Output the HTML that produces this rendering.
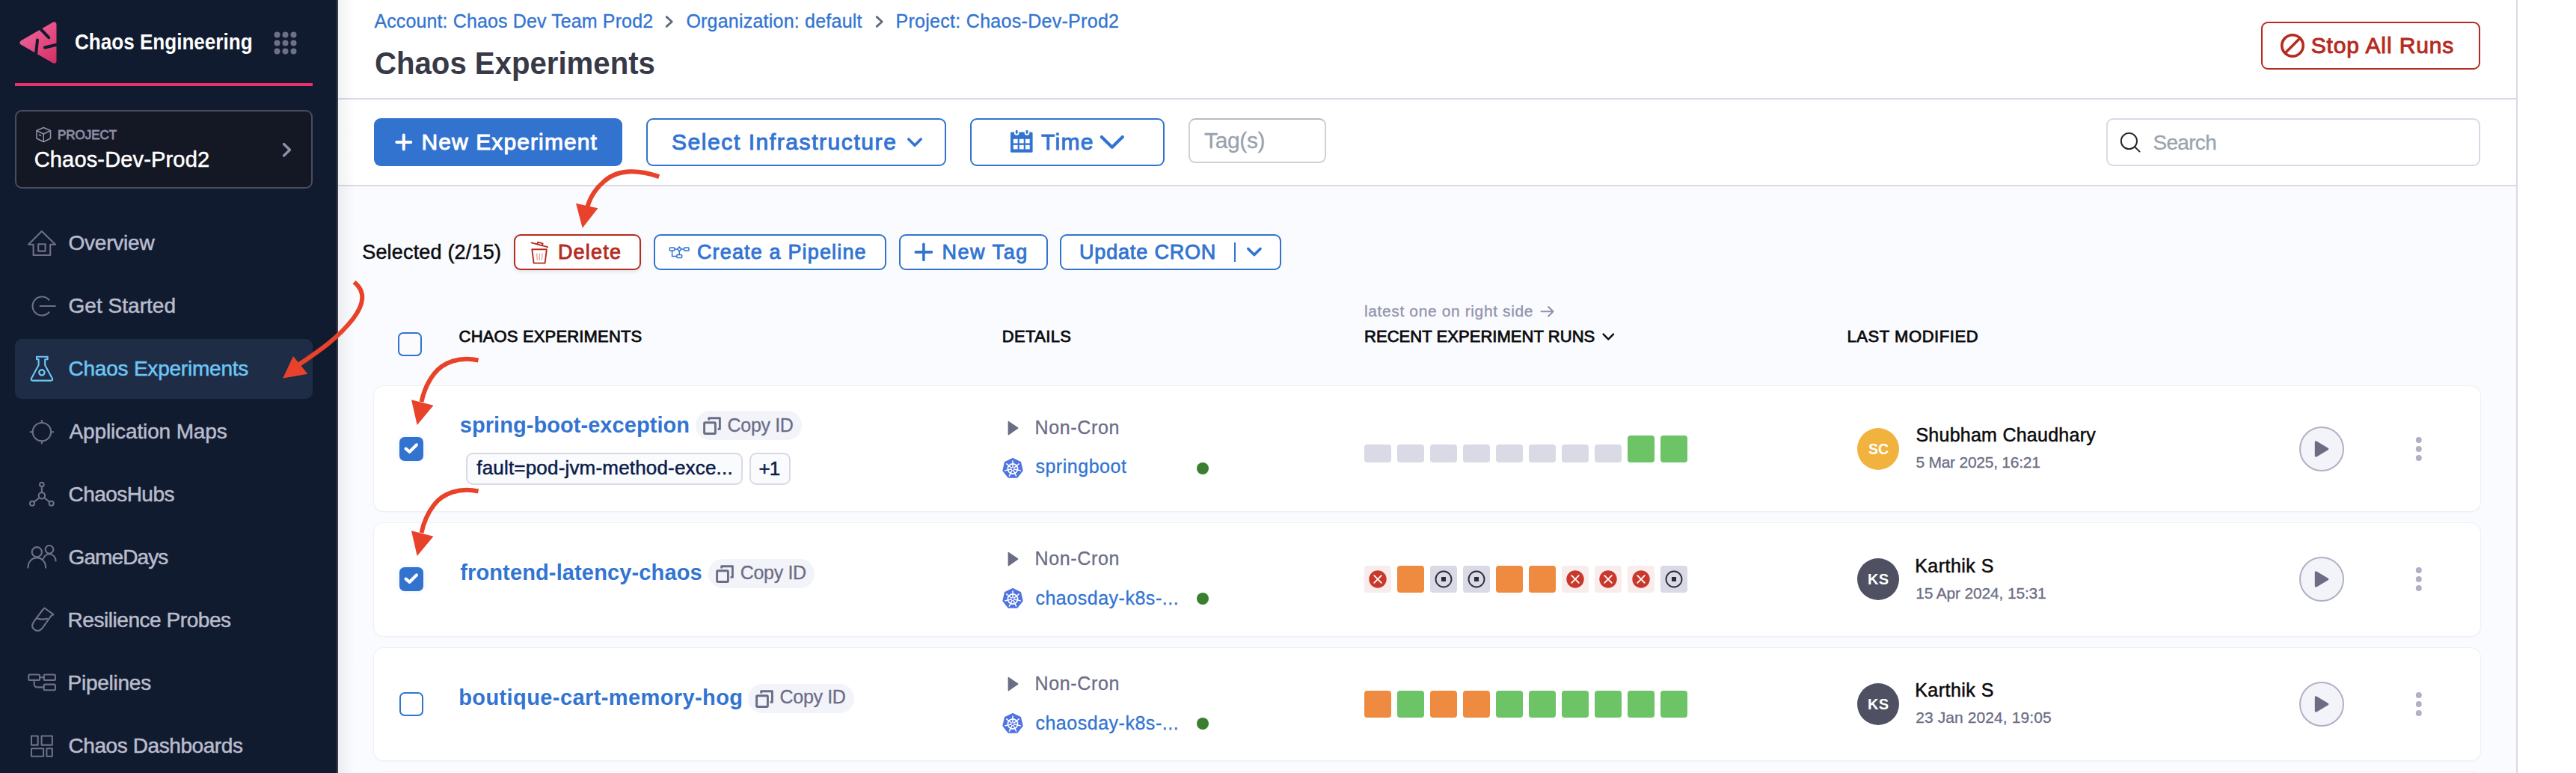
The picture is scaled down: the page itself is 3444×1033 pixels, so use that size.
<!DOCTYPE html>
<html><head><meta charset="utf-8"><title>Chaos Experiments</title>
<style>
html,body{margin:0;padding:0;}
body{width:3444px;height:1033px;overflow:hidden;position:relative;background:#fff;font-family:"Liberation Sans",sans-serif;}
.b{position:absolute;display:block;}
.t{position:absolute;white-space:nowrap;line-height:1;font-family:"Liberation Sans",sans-serif;}
</style></head><body>
<div class="b" style="left:452px;top:0px;width:2912px;height:1033px;background:#fafbfe"></div>
<div class="b" style="left:452px;top:0px;width:2912px;height:131px;background:#fff"></div>
<div class="b" style="left:452px;top:131px;width:2912px;height:2px;background:#d9dae5"></div>
<div class="b" style="left:452px;top:133px;width:2912px;height:114px;background:#fff"></div>
<div class="b" style="left:452px;top:247px;width:2912px;height:2px;background:#d9dae5"></div>
<div class="b" style="left:452px;top:0px;width:22px;height:1033px;background:linear-gradient(90deg,rgba(20,20,40,0.06),rgba(20,20,40,0))"></div>
<div class="b" style="left:3364px;top:0px;width:2px;height:1033px;background:#d9dae5"></div>
<div class="b" style="left:3366px;top:0px;width:78px;height:1033px;background:#fff"></div>
<div class="b" style="left:0px;top:0px;width:450px;height:1033px;background:#101b2f"></div>
<div class="b" style="left:450px;top:0px;width:2px;height:1033px;background:#3b3e4b"></div>
<svg class="b" style="left:20px;top:24px" width="64" height="66" viewBox="20 24 64 66">
<defs><linearGradient id="lg" gradientUnits="userSpaceOnUse" x1="30" y1="30" x2="75" y2="85"><stop offset="0" stop-color="#f06ba2"/><stop offset="1" stop-color="#d62d63"/></linearGradient></defs>
<path d="M72.3 32.6 L72.3 81.4 L29.8 57 Z" fill="url(#lg)" stroke="url(#lg)" stroke-width="6.4" stroke-linejoin="round"/>
<g stroke="#101b2f" stroke-width="4" stroke-linecap="round" fill="none">
<path d="M52 36.5 L65.2 50.2"/><path d="M50 53.5 L47.8 75"/><path d="M60 63.5 L77 59.5"/>
</g></svg>
<div class="t" style="left:100.1px;top:42.0px;font-size:29px;font-weight:700;color:#ffffff;letter-spacing:0px;transform:scaleX(0.8992);transform-origin:0 0;">Chaos Engineering</div>
<svg class="b" style="left:360px;top:36px" width="44" height="44" viewBox="360 36 44 44"><circle cx="370.5" cy="46.5" r="4" fill="#6e7087"/><circle cx="370.5" cy="57.5" r="4" fill="#6e7087"/><circle cx="370.5" cy="68.5" r="4" fill="#6e7087"/><circle cx="381.5" cy="46.5" r="4" fill="#6e7087"/><circle cx="381.5" cy="57.5" r="4" fill="#6e7087"/><circle cx="381.5" cy="68.5" r="4" fill="#6e7087"/><circle cx="392.5" cy="46.5" r="4" fill="#6e7087"/><circle cx="392.5" cy="57.5" r="4" fill="#6e7087"/><circle cx="392.5" cy="68.5" r="4" fill="#6e7087"/></svg>
<div class="b" style="left:20px;top:111px;width:398px;height:4px;background:#ee2f6c"></div>
<div class="b" style="left:20px;top:147px;width:398px;height:105px;background:#141724;border:2px solid #4b4d5f;border-radius:9px;box-sizing:border-box"></div>
<svg class="b" style="left:46px;top:168px" width="26" height="26" viewBox="46 168 26 26" fill="none" stroke="#8e90a8" stroke-width="1.6" stroke-linejoin="round">
<path d="M58.2 170.5 L67.5 174.5 L67.5 185 L58.2 189.5 L49 185 L49 174.5 Z"/><path d="M49 174.5 L58.2 179 L67.5 174.5"/><path d="M58.2 179 L58.2 189.5"/><path d="M52 180 L55 181.5"/></svg>
<div class="t" style="left:77.0px;top:172.0px;font-size:17px;font-weight:400;color:#8e90a8;letter-spacing:-0.05px;-webkit-text-stroke:0.80px #8e90a8;">PROJECT</div>
<div class="t" style="left:45.7px;top:199.3px;font-size:29px;font-weight:400;color:#ffffff;letter-spacing:0.164px;-webkit-text-stroke:0.5px #ffffff;">Chaos-Dev-Prod2</div>
<svg class="b" style="left:372px;top:186px" width="24" height="30" viewBox="372 186 24 30"><path d="M379.5 192.5 L387.5 200.3 L379.5 208" fill="none" stroke="#8e90a8" stroke-width="3.4" stroke-linecap="round" stroke-linejoin="round"/></svg>
<div class="b" style="left:20px;top:453px;width:398px;height:80px;background:#1f2c46;border-radius:9px"></div>
<div class="t" style="left:91.5px;top:310.7px;font-size:28px;font-weight:400;color:#babccd;letter-spacing:-0.214px;-webkit-text-stroke:0.5px #babccd;">Overview</div>
<div class="t" style="left:91.5px;top:394.8px;font-size:28px;font-weight:400;color:#babccd;letter-spacing:0.03px;-webkit-text-stroke:0.5px #babccd;">Get Started</div>
<div class="t" style="left:91.5px;top:479.0px;font-size:28px;font-weight:400;color:#6cc6f5;letter-spacing:-0.219px;-webkit-text-stroke:0.5px #6cc6f5;">Chaos Experiments</div>
<div class="t" style="left:92.5px;top:563.0px;font-size:28px;font-weight:400;color:#babccd;letter-spacing:-0.133px;-webkit-text-stroke:0.5px #babccd;">Application Maps</div>
<div class="t" style="left:91.5px;top:647.0px;font-size:28px;font-weight:400;color:#babccd;letter-spacing:-0.55px;-webkit-text-stroke:0.5px #babccd;">ChaosHubs</div>
<div class="t" style="left:91.5px;top:731.0px;font-size:28px;font-weight:400;color:#babccd;letter-spacing:-0.9px;-webkit-text-stroke:0.5px #babccd;">GameDays</div>
<div class="t" style="left:90.5px;top:815.0px;font-size:28px;font-weight:400;color:#babccd;letter-spacing:-0.444px;-webkit-text-stroke:0.5px #babccd;">Resilience Probes</div>
<div class="t" style="left:90.5px;top:899.0px;font-size:28px;font-weight:400;color:#babccd;letter-spacing:-0.25px;-webkit-text-stroke:0.5px #babccd;">Pipelines</div>
<div class="t" style="left:91.5px;top:983.0px;font-size:28px;font-weight:400;color:#babccd;letter-spacing:-0.42px;-webkit-text-stroke:0.5px #babccd;">Chaos Dashboards</div>
<svg class="b" style="left:30px;top:290px" width="50" height="743" viewBox="30 290 50 743" fill="none" stroke="#6e7087" stroke-width="2.1" stroke-linejoin="round" stroke-linecap="round">
<path d="M55.8 309 L38 326.8 L44.6 326.8 L44.6 341 L67.2 341 L67.2 326.8 L74 326.8 Z"/>
<rect x="51.2" y="326.2" width="9.4" height="9.4"/>
<path d="M65.5 400.8 A12.5 12.5 0 1 0 65.5 417.2"/><path d="M53.6 409 L73.8 409"/>
<g stroke="#6cc6f5" stroke-width="2.1"><path d="M49 476.8 L63.6 476.8 L63.6 480.2 L60.2 480.2 L60.2 488 L70 506 Q71 508.6 68 508.6 L43.8 508.6 Q40.8 508.6 41.8 506 L51.6 488 L51.6 480.2 L49 480.2 Z"/>
<circle cx="55.9" cy="497.8" r="3.6" stroke-width="2.4" stroke-dasharray="2 1"/></g>
<circle cx="55.9" cy="577.2" r="12.2"/><path d="M55.9 562 L55.9 565 M55.9 589.4 L55.9 592.4 M40.6 577.2 L43.7 577.2 M68.1 577.2 L71.3 577.2"/>
<circle cx="55.9" cy="647.5" r="2.8"/><circle cx="55.9" cy="662.3" r="4.2"/><circle cx="43" cy="672.8" r="3"/><circle cx="68.7" cy="672.8" r="3"/>
<path d="M55.9 650.3 L55.9 658.1 M52.8 665 L45.3 670.8 M59 665 L66.4 670.8"/>
<circle cx="49.3" cy="737.7" r="6.6"/><path d="M37.5 758.6 C37.5 751 42.5 745.4 49.3 745.4 C56.1 745.4 61.1 751 61.1 758.6"/>
<circle cx="66" cy="734.3" r="5.3"/><path d="M57.6 746.8 C59.5 742.5 62.5 740.5 66 740.5 C71 740.5 74.5 744.5 74.6 749.6"/>
<path d="M59.5 812.5 L71.5 821.2 L68.2 823.2 L56.8 839.2 Q51.8 845.5 46.2 841.4 Q40.6 837.3 45.2 830.8 L57 815 Z"/><path d="M49.8 826.4 Q56 828.6 63 826.8"/>
<rect x="38.3" y="901.5" width="14.8" height="7.4" rx="1.5"/><rect x="58.7" y="901.5" width="15.2" height="7.4" rx="1.5"/><rect x="58.7" y="914.6" width="15.2" height="7.6" rx="1.5"/>
<path d="M53.1 905.2 L58.7 905.2 M45.7 908.9 L45.7 914 Q45.7 918.4 50 918.4 L58.7 918.4"/>
<rect x="42" y="983.5" width="8.7" height="12.1"/><rect x="55.6" y="983.5" width="14.2" height="12.1"/><rect x="42" y="1000.2" width="16.1" height="10.5"/><rect x="62.4" y="1000.2" width="7.4" height="10.5"/>
</svg>
<div class="t" style="left:500.4px;top:15.7px;font-size:25px;font-weight:400;color:#3274d2;letter-spacing:0.125px;-webkit-text-stroke:0.3px #3274d2;">Account: Chaos Dev Team Prod2</div>
<div class="t" style="left:917.4px;top:15.9px;font-size:25px;font-weight:400;color:#3274d2;letter-spacing:0.22px;-webkit-text-stroke:0.3px #3274d2;">Organization: default</div>
<div class="t" style="left:1197.5px;top:15.9px;font-size:25px;font-weight:400;color:#3274d2;letter-spacing:0.291px;-webkit-text-stroke:0.3px #3274d2;">Project: Chaos-Dev-Prod2</div>
<svg class="b" style="left:886px;top:16px" width="20" height="26" viewBox="886 16 20 26"><path d="M891.2 22.6 L898.2 29 L891.2 35.4" fill="none" stroke="#5d6b7a" stroke-width="2.8" stroke-linecap="round" stroke-linejoin="round"/></svg>
<svg class="b" style="left:1167px;top:16px" width="20" height="26" viewBox="1167 16 20 26"><path d="M1172.2 22.6 L1179.2 29 L1172.2 35.4" fill="none" stroke="#5d6b7a" stroke-width="2.8" stroke-linecap="round" stroke-linejoin="round"/></svg>
<div class="t" style="left:501.1px;top:63.0px;font-size:43px;font-weight:700;color:#383946;letter-spacing:0px;transform:scaleX(0.9338);transform-origin:0 0;">Chaos Experiments</div>
<div class="b" style="left:3023px;top:29px;width:293px;height:64px;border:2px solid #b52b1f;border-radius:9px;box-sizing:border-box;background:#fff"></div>
<svg class="b" style="left:3045px;top:41px" width="40" height="40" viewBox="3045 41 40 40" fill="none" stroke="#b52b1f" stroke-width="3.6"><circle cx="3065" cy="60.9" r="14.2"/><path d="M3055 71 L3075 51"/></svg>
<div class="t" style="left:3089.7px;top:45.9px;font-size:30px;font-weight:400;color:#b52b1f;letter-spacing:0.875px;-webkit-text-stroke:0.96px #b52b1f;">Stop All Runs</div>
<div class="b" style="left:500px;top:158px;width:332px;height:64px;background:#3273d0;border-radius:9px"></div>
<svg class="b" style="left:524px;top:174px" width="32" height="32" viewBox="524 174 32 32"><path d="M539.8 180.5 L539.8 199.5 M530.3 190 L549.3 190" stroke="#fff" stroke-width="4" stroke-linecap="round"/></svg>
<div class="t" style="left:563.5px;top:174.9px;font-size:30px;font-weight:400;color:#ffffff;letter-spacing:1.1px;-webkit-text-stroke:0.96px #ffffff;">New Experiment</div>
<div class="b" style="left:864px;top:158px;width:401px;height:64px;border:2px solid #3273d0;border-radius:9px;box-sizing:border-box;background:#fff"></div>
<div class="t" style="left:898.0px;top:174.7px;font-size:30px;font-weight:400;color:#3274d2;letter-spacing:1.57px;-webkit-text-stroke:0.96px #3274d2;">Select Infrastructure</div>
<svg class="b" style="left:1208px;top:178px" width="30" height="24" viewBox="1208 178 30 24"><path d="M1214.8 186 L1223 194.3 L1231.2 186" fill="none" stroke="#3273d0" stroke-width="3.6" stroke-linecap="round" stroke-linejoin="round"/></svg>
<div class="b" style="left:1297px;top:158px;width:260px;height:64px;border:2px solid #3273d0;border-radius:9px;box-sizing:border-box;background:#fff"></div>
<svg class="b" style="left:1348px;top:170px" width="36" height="38" viewBox="1348 170 36 38">
<rect x="1351" y="176.5" width="29.6" height="27.3" rx="1.5" fill="#3273d0"/>
<g fill="#fff"><rect x="1354.8" y="185.8" width="5.8" height="5.6"/><rect x="1362.9" y="185.8" width="5.8" height="5.6"/><rect x="1370.9" y="185.8" width="5.8" height="5.6"/>
<rect x="1354.8" y="193.8" width="5.8" height="5.6"/><rect x="1362.9" y="193.8" width="5.8" height="5.6"/><rect x="1370.9" y="193.8" width="5.8" height="5.6"/>
<circle cx="1359.2" cy="177.5" r="3.3"/><circle cx="1373" cy="177.5" r="3.3"/></g>
<g fill="#3273d0"><rect x="1357.8" y="173.8" width="2.8" height="5.2" rx="1.4"/><rect x="1371.6" y="173.8" width="2.8" height="5.2" rx="1.4"/></g>
</svg>
<div class="t" style="left:1392.0px;top:174.8px;font-size:30px;font-weight:400;color:#3274d2;letter-spacing:1.333px;-webkit-text-stroke:0.96px #3274d2;">Time</div>
<svg class="b" style="left:1466px;top:176px" width="42" height="28" viewBox="1466 176 42 28"><path d="M1472.8 183 L1486.8 196.8 L1500.8 183" fill="none" stroke="#3273d0" stroke-width="4.2" stroke-linecap="round" stroke-linejoin="round"/></svg>
<div class="b" style="left:1589px;top:158px;width:184px;height:60px;border:2px solid #d0d1d6;border-top-color:#b8bbc1;border-radius:9px;box-sizing:border-box;background:#fff"></div>
<div class="t" style="left:1610.0px;top:173.1px;font-size:30px;font-weight:400;color:#98a2ae;letter-spacing:-0.36px;-webkit-text-stroke:0.3px #98a2ae;">Tag(s)</div>
<div class="b" style="left:2816px;top:158px;width:500px;height:64px;border:2px solid #d9dae5;border-radius:9px;box-sizing:border-box;background:#fff"></div>
<svg class="b" style="left:2830px;top:172px" width="36" height="36" viewBox="2830 172 36 36" fill="none" stroke="#22222a" stroke-width="1.9"><circle cx="2846.4" cy="188.5" r="10.6"/><path d="M2854 196.2 L2860.6 202.6" stroke-linecap="round"/></svg>
<div class="t" style="left:2878.5px;top:176.9px;font-size:28px;font-weight:400;color:#9aa3ae;letter-spacing:-0.7px;-webkit-text-stroke:0.3px #9aa3ae;">Search</div>
<div class="t" style="left:484.2px;top:323.8px;font-size:27px;font-weight:400;color:#0b0b0d;letter-spacing:0.186px;-webkit-text-stroke:0.5px #0b0b0d;">Selected (2/15)</div>
<div class="b" style="left:687px;top:313px;width:170px;height:48px;border:2px solid #b52b1f;border-radius:9px;box-sizing:border-box;background:#fff;box-shadow:0 2px 5px rgba(0,0,0,0.10)"></div>
<svg class="b" style="left:706px;top:318px" width="32" height="38" viewBox="706 318 32 38" fill="none" stroke="#b52b1f" stroke-width="1.9" stroke-linejoin="round" stroke-linecap="round">
<path d="M710.6 324.4 L732.2 330.2"/><path d="M718.4 326.4 L719.2 323.6 L725.6 325.3 L724.9 328"/>
<path d="M711.3 333.3 L730.9 333.3 L728.6 351.6 L713.6 351.6 Z"/><path d="M717.6 339 L718.3 347.4 M721.3 339 L721.3 347.4 M725 339 L724.3 347.4" stroke="#e8a09a" stroke-width="1.3"/></svg>
<div class="t" style="left:745.9px;top:324.1px;font-size:27px;font-weight:400;color:#b52b1f;letter-spacing:1.22px;-webkit-text-stroke:0.86px #b52b1f;">Delete</div>
<div class="b" style="left:874px;top:313px;width:311px;height:48px;border:2px solid #3273d0;border-radius:9px;box-sizing:border-box;background:#fff"></div>
<svg class="b" style="left:892px;top:326px" width="32" height="22" viewBox="892 326 32 22" fill="none" stroke="#3273d0" stroke-width="1.5">
<rect x="895.3" y="330.9" width="6.5" height="4" rx="0.8"/><rect x="914.6" y="330.9" width="6.4" height="4" rx="0.8"/><rect x="904.9" y="340.4" width="6.8" height="4" rx="0.8"/>
<path d="M901.8 332.9 L905.5 332.9 L908.3 330.1 L911.1 332.9 L908.3 335.7 L905.5 332.9 M911.1 332.9 L914.6 332.9 M908.3 335.7 L908.3 340.4 M898.6 334.9 L898.6 342.4 L904.9 342.4"/></svg>
<div class="t" style="left:931.9px;top:323.9px;font-size:27px;font-weight:400;color:#3274d2;letter-spacing:1.162px;-webkit-text-stroke:0.86px #3274d2;">Create a Pipeline</div>
<div class="b" style="left:1202px;top:313px;width:199px;height:48px;border:2px solid #3273d0;border-radius:9px;box-sizing:border-box;background:#fff"></div>
<svg class="b" style="left:1218px;top:321px" width="34" height="32" viewBox="1218 321 34 32"><path d="M1234.9 326.3 L1234.9 347.5 M1224.3 336.9 L1245.5 336.9" stroke="#3273d0" stroke-width="3.6" stroke-linecap="round"/></svg>
<div class="t" style="left:1259.4px;top:323.9px;font-size:27px;font-weight:400;color:#3274d2;letter-spacing:1.55px;-webkit-text-stroke:0.86px #3274d2;">New Tag</div>
<div class="b" style="left:1417px;top:313px;width:296px;height:48px;border:2px solid #3273d0;border-radius:9px;box-sizing:border-box;background:#fff"></div>
<div class="b" style="left:1650px;top:324px;width:2px;height:26px;background:#3273d0"></div>
<svg class="b" style="left:1662px;top:326px" width="30" height="22" viewBox="1662 326 30 22"><path d="M1668.8 332.4 L1676.9 340.6 L1685 332.4" fill="none" stroke="#3273d0" stroke-width="3.6" stroke-linecap="round" stroke-linejoin="round"/></svg>
<div class="t" style="left:1443.0px;top:324.0px;font-size:27px;font-weight:400;color:#3274d2;letter-spacing:0.83px;-webkit-text-stroke:0.86px #3274d2;">Update CRON</div>
<div class="b" style="left:532px;top:444px;width:32px;height:32px;border:2px solid #3273d0;border-radius:7px;box-sizing:border-box;background:#fbfbfd"></div>
<div class="t" style="left:613.6px;top:439.0px;font-size:22px;font-weight:400;color:#0b0b0d;letter-spacing:0.162px;-webkit-text-stroke:0.80px #0b0b0d;">CHAOS EXPERIMENTS</div>
<div class="t" style="left:1339.7px;top:439.0px;font-size:22px;font-weight:400;color:#0b0b0d;letter-spacing:0.383px;-webkit-text-stroke:0.80px #0b0b0d;">DETAILS</div>
<div class="t" style="left:1824.0px;top:405.0px;font-size:21px;font-weight:400;color:#9293ab;letter-spacing:0.617px;-webkit-text-stroke:0.3px #9293ab;">latest one on right side</div>
<div class="t" style="left:1824.0px;top:439.0px;font-size:22px;font-weight:400;color:#0b0b0d;letter-spacing:0.048px;-webkit-text-stroke:0.80px #0b0b0d;">RECENT EXPERIMENT RUNS</div>
<div class="t" style="left:2469.5px;top:439.0px;font-size:22px;font-weight:400;color:#0b0b0d;letter-spacing:0.567px;-webkit-text-stroke:0.80px #0b0b0d;">LAST MODIFIED</div>
<svg class="b" style="left:2055px;top:404px" width="28" height="24" viewBox="2055 404 28 24" fill="none" stroke="#9293ab" stroke-width="2.1" stroke-linecap="round" stroke-linejoin="round"><path d="M2060.5 416.3 L2076.5 416.3 M2070.2 410 L2076.5 416.3 L2070.2 422.6"/></svg>
<svg class="b" style="left:2138px;top:440px" width="26" height="20" viewBox="2138 440 26 20"><path d="M2143.6 446.6 L2150.3 453.3 L2157 446.6" fill="none" stroke="#0b0b0d" stroke-width="2.4" stroke-linecap="round" stroke-linejoin="round"/></svg>
<div class="b" style="left:500px;top:516px;width:2816px;height:167px;background:#fff;border-radius:13px;box-shadow:0 0 0 1px #eef0f5, 0 1px 3px rgba(30,40,80,0.06)"></div>
<div class="b" style="left:500px;top:699px;width:2816px;height:151px;background:#fff;border-radius:13px;box-shadow:0 0 0 1px #eef0f5, 0 1px 3px rgba(30,40,80,0.06)"></div>
<div class="b" style="left:500px;top:866px;width:2816px;height:150px;background:#fff;border-radius:13px;box-shadow:0 0 0 1px #eef0f5, 0 1px 3px rgba(30,40,80,0.06)"></div>
<div class="b" style="left:500px;top:1032px;width:2816px;height:168px;background:#fff;border-radius:13px;box-shadow:0 0 0 1px #eef0f5, 0 1px 3px rgba(30,40,80,0.06)"></div>
<div class="b" style="left:534px;top:584px;width:32px;height:32px;background:#3273d0;border-radius:7px;box-shadow:0 0 6px rgba(50,115,208,0.12)"></div><svg class="b" style="left:534px;top:584px" width="32" height="32" viewBox="0 0 32 32"><path d="M8.6 15.6 L13.6 19.8 L22.9 10.4" fill="none" stroke="#fff" stroke-width="4.2" stroke-linecap="round" stroke-linejoin="round"/></svg>
<div class="t" style="left:614.8px;top:554.0px;font-size:29px;font-weight:700;color:#3274d2;letter-spacing:0.055px;">spring-boot-exception</div>
<div class="b" style="left:930px;top:549px;width:142px;height:39px;background:#f3f3fa;border-radius:20px"></div><svg class="b" style="left:930px;top:549px" width="40" height="40" viewBox="0 0 40 40" fill="none" stroke="#6b6d85" stroke-width="2.9" stroke-linejoin="round"><rect x="11.6" y="15.8" width="14.8" height="14.7" rx="1.2"/><path d="M17.7 12.4 L17.7 9.7 L32.4 9.7 L32.4 24.4 L29.6 24.4"/></svg>
<div class="t" style="left:972.6px;top:555.6px;font-size:25px;font-weight:400;color:#6b6d85;letter-spacing:-0.333px;-webkit-text-stroke:0.3px #6b6d85;">Copy ID</div>
<div class="b" style="left:623px;top:605px;width:370px;height:43px;background:#fafbfd;border:2px solid #d9dae5;border-radius:9px;box-sizing:border-box"></div>
<div class="b" style="left:1002px;top:605px;width:55px;height:43px;background:#fafbfd;border:2px solid #d9dae5;border-radius:9px;box-sizing:border-box"></div>
<div class="t" style="left:637.3px;top:612.3px;font-size:26px;font-weight:400;color:#0b1c4a;letter-spacing:0.181px;-webkit-text-stroke:0.5px #0b1c4a;">fault=pod-jvm-method-exce...</div>
<div class="t" style="left:1014.5px;top:612.6px;font-size:26px;font-weight:400;color:#0b1c4a;letter-spacing:-1.0px;-webkit-text-stroke:0.5px #0b1c4a;">+1</div>
<svg class="b" style="left:1344px;top:561px" width="22" height="22" viewBox="0 0 22 22"><path d="M3.6 2.6 L3.6 19.6 Q3.6 21 4.8 20.2 L17 11.8 Q18 11 17 10.3 L4.8 1.9 Q3.6 1.2 3.6 2.6Z" fill="#6b6d85"/></svg>
<div class="t" style="left:1383.6px;top:559.0px;font-size:25px;font-weight:400;color:#6b6d85;letter-spacing:0.629px;-webkit-text-stroke:0.3px #6b6d85;">Non-Cron</div>
<svg class="b" style="left:1337.7px;top:610px" width="32" height="32" viewBox="0 0 32 32"><path d="M16.00 2.80 L26.32 7.77 L28.87 18.94 L21.73 27.89 L10.27 27.89 L3.13 18.94 L5.68 7.77 Z" fill="#4f73e0" stroke="#4f73e0" stroke-width="1.6" stroke-linejoin="round"/><g stroke="#fff" fill="none"><circle cx="16" cy="16.5" r="6.6" stroke-width="1.7"/><path d="M16 16.5 L16.00 5.90 M16 16.5 L24.29 9.89 M16 16.5 L26.33 18.86 M16 16.5 L20.60 26.05 M16 16.5 L11.40 26.05 M16 16.5 L5.67 18.86 M16 16.5 L7.71 9.89 " stroke-width="1.5" stroke-linecap="round"/><circle cx="16" cy="16.5" r="1.6" fill="#4f73e0" stroke="none"/></g></svg>
<div class="t" style="left:1384.4px;top:611.4px;font-size:25px;font-weight:400;color:#3274d2;letter-spacing:0.533px;-webkit-text-stroke:0.3px #3274d2;">springboot</div>
<div class="b" style="left:1600px;top:618px;width:16px;height:16px;background:#3a7f2e;border-radius:50%"></div>
<div class="b" style="left:1824px;top:594px;width:36px;height:24px;background:#d9dae5;border-radius:4px"></div>
<div class="b" style="left:1868px;top:594px;width:36px;height:24px;background:#d9dae5;border-radius:4px"></div>
<div class="b" style="left:1912px;top:594px;width:36px;height:24px;background:#d9dae5;border-radius:4px"></div>
<div class="b" style="left:1956px;top:594px;width:36px;height:24px;background:#d9dae5;border-radius:4px"></div>
<div class="b" style="left:2000px;top:594px;width:36px;height:24px;background:#d9dae5;border-radius:4px"></div>
<div class="b" style="left:2044px;top:594px;width:36px;height:24px;background:#d9dae5;border-radius:4px"></div>
<div class="b" style="left:2088px;top:594px;width:36px;height:24px;background:#d9dae5;border-radius:4px"></div>
<div class="b" style="left:2132px;top:594px;width:36px;height:24px;background:#d9dae5;border-radius:4px"></div>
<div class="b" style="left:2176px;top:582px;width:36px;height:36px;background:#6cc466;border-radius:4px"></div>
<div class="b" style="left:2220px;top:582px;width:36px;height:36px;background:#6cc466;border-radius:4px"></div>
<div class="b" style="left:2483px;top:572px;width:56px;height:56px;background:#f2b23e;border-radius:50%"></div>
<div class="t" style="left:2497.9px;top:589.9px;font-size:20px;font-weight:700;color:#ffffff;letter-spacing:0px;transform:scaleX(0.9778);transform-origin:0 0;">SC</div>
<div class="t" style="left:2561.4px;top:568.6px;font-size:25px;font-weight:400;color:#0b0b0d;letter-spacing:0.256px;-webkit-text-stroke:0.5px #0b0b0d;">Shubham Chaudhary</div>
<div class="t" style="left:2561.4px;top:606.5px;font-size:21px;font-weight:400;color:#6b6d85;letter-spacing:-0.244px;-webkit-text-stroke:0.3px #6b6d85;">5 Mar 2025, 16:21</div>
<div class="b" style="left:3074px;top:570px;width:60px;height:60px;background:#f3f3fa;border:2px solid #b0b1c4;border-radius:50%;box-sizing:border-box"></div><svg class="b" style="left:3074px;top:570px" width="60" height="60" viewBox="0 0 60 60"><path d="M20.8 21.4 Q20.8 18.3 23.5 19.8 L38.2 28.4 Q40.4 30 38.2 31.6 L23.5 40.2 Q20.8 41.7 20.8 38.6 Z" fill="#6b6d85"/></svg>
<svg class="b" style="left:3222px;top:578px" width="24" height="44" viewBox="0 0 24 44"><circle cx="11.8" cy="10" r="4" fill="#b0b1c4"/><circle cx="11.8" cy="22" r="4" fill="#b0b1c4"/><circle cx="11.8" cy="34" r="4" fill="#b0b1c4"/></svg>
<div class="b" style="left:534px;top:758px;width:32px;height:32px;background:#3273d0;border-radius:7px;box-shadow:0 0 6px rgba(50,115,208,0.12)"></div><svg class="b" style="left:534px;top:758px" width="32" height="32" viewBox="0 0 32 32"><path d="M8.6 15.6 L13.6 19.8 L22.9 10.4" fill="none" stroke="#fff" stroke-width="4.2" stroke-linecap="round" stroke-linejoin="round"/></svg>
<div class="t" style="left:615.2px;top:751.1px;font-size:29px;font-weight:700;color:#3274d2;letter-spacing:0.133px;">frontend-latency-chaos</div>
<div class="b" style="left:947px;top:747px;width:142px;height:39px;background:#f3f3fa;border-radius:20px"></div><svg class="b" style="left:947px;top:747px" width="40" height="40" viewBox="0 0 40 40" fill="none" stroke="#6b6d85" stroke-width="2.9" stroke-linejoin="round"><rect x="11.6" y="15.8" width="14.8" height="14.7" rx="1.2"/><path d="M17.7 12.4 L17.7 9.7 L32.4 9.7 L32.4 24.4 L29.6 24.4"/></svg>
<div class="t" style="left:989.8px;top:752.7px;font-size:25px;font-weight:400;color:#6b6d85;letter-spacing:-0.333px;-webkit-text-stroke:0.3px #6b6d85;">Copy ID</div>
<svg class="b" style="left:1344px;top:736px" width="22" height="22" viewBox="0 0 22 22"><path d="M3.6 2.6 L3.6 19.6 Q3.6 21 4.8 20.2 L17 11.8 Q18 11 17 10.3 L4.8 1.9 Q3.6 1.2 3.6 2.6Z" fill="#6b6d85"/></svg>
<div class="t" style="left:1383.6px;top:733.9px;font-size:25px;font-weight:400;color:#6b6d85;letter-spacing:0.629px;-webkit-text-stroke:0.3px #6b6d85;">Non-Cron</div>
<svg class="b" style="left:1337.7px;top:784px" width="32" height="32" viewBox="0 0 32 32"><path d="M16.00 2.80 L26.32 7.77 L28.87 18.94 L21.73 27.89 L10.27 27.89 L3.13 18.94 L5.68 7.77 Z" fill="#4f73e0" stroke="#4f73e0" stroke-width="1.6" stroke-linejoin="round"/><g stroke="#fff" fill="none"><circle cx="16" cy="16.5" r="6.6" stroke-width="1.7"/><path d="M16 16.5 L16.00 5.90 M16 16.5 L24.29 9.89 M16 16.5 L26.33 18.86 M16 16.5 L20.60 26.05 M16 16.5 L11.40 26.05 M16 16.5 L5.67 18.86 M16 16.5 L7.71 9.89 " stroke-width="1.5" stroke-linecap="round"/><circle cx="16" cy="16.5" r="1.6" fill="#4f73e0" stroke="none"/></g></svg>
<div class="t" style="left:1384.4px;top:787.0px;font-size:25px;font-weight:400;color:#3274d2;letter-spacing:0.52px;-webkit-text-stroke:0.3px #3274d2;">chaosday-k8s-...</div>
<div class="b" style="left:1600px;top:792px;width:16px;height:16px;background:#3a7f2e;border-radius:50%"></div>
<div class="b" style="left:1824px;top:756px;width:36px;height:36px;background:#f9ecec;border-radius:4px"></div><svg class="b" style="left:1824px;top:756px" width="36" height="36" viewBox="0 0 36 36"><circle cx="18" cy="18" r="11.7" fill="#c9392b"/><path d="M13.2 13.2 L22.8 22.8 M22.8 13.2 L13.2 22.8" stroke="#fff" stroke-width="1.8" stroke-linecap="round"/></svg>
<div class="b" style="left:1868px;top:756px;width:36px;height:36px;background:#ef8b41;border-radius:4px"></div>
<div class="b" style="left:1912px;top:756px;width:36px;height:36px;background:#d9dae5;border-radius:4px"></div><svg class="b" style="left:1912px;top:756px" width="36" height="36" viewBox="0 0 36 36"><circle cx="18" cy="18" r="10.5" fill="none" stroke="#2b2c3a" stroke-width="1.9"/><rect x="15" y="15" width="6" height="6" fill="#2b2c3a"/></svg>
<div class="b" style="left:1956px;top:756px;width:36px;height:36px;background:#d9dae5;border-radius:4px"></div><svg class="b" style="left:1956px;top:756px" width="36" height="36" viewBox="0 0 36 36"><circle cx="18" cy="18" r="10.5" fill="none" stroke="#2b2c3a" stroke-width="1.9"/><rect x="15" y="15" width="6" height="6" fill="#2b2c3a"/></svg>
<div class="b" style="left:2000px;top:756px;width:36px;height:36px;background:#ef8b41;border-radius:4px"></div>
<div class="b" style="left:2044px;top:756px;width:36px;height:36px;background:#ef8b41;border-radius:4px"></div>
<div class="b" style="left:2088px;top:756px;width:36px;height:36px;background:#f9ecec;border-radius:4px"></div><svg class="b" style="left:2088px;top:756px" width="36" height="36" viewBox="0 0 36 36"><circle cx="18" cy="18" r="11.7" fill="#c9392b"/><path d="M13.2 13.2 L22.8 22.8 M22.8 13.2 L13.2 22.8" stroke="#fff" stroke-width="1.8" stroke-linecap="round"/></svg>
<div class="b" style="left:2132px;top:756px;width:36px;height:36px;background:#f9ecec;border-radius:4px"></div><svg class="b" style="left:2132px;top:756px" width="36" height="36" viewBox="0 0 36 36"><circle cx="18" cy="18" r="11.7" fill="#c9392b"/><path d="M13.2 13.2 L22.8 22.8 M22.8 13.2 L13.2 22.8" stroke="#fff" stroke-width="1.8" stroke-linecap="round"/></svg>
<div class="b" style="left:2176px;top:756px;width:36px;height:36px;background:#f9ecec;border-radius:4px"></div><svg class="b" style="left:2176px;top:756px" width="36" height="36" viewBox="0 0 36 36"><circle cx="18" cy="18" r="11.7" fill="#c9392b"/><path d="M13.2 13.2 L22.8 22.8 M22.8 13.2 L13.2 22.8" stroke="#fff" stroke-width="1.8" stroke-linecap="round"/></svg>
<div class="b" style="left:2220px;top:756px;width:36px;height:36px;background:#d9dae5;border-radius:4px"></div><svg class="b" style="left:2220px;top:756px" width="36" height="36" viewBox="0 0 36 36"><circle cx="18" cy="18" r="10.5" fill="none" stroke="#2b2c3a" stroke-width="1.9"/><rect x="15" y="15" width="6" height="6" fill="#2b2c3a"/></svg>
<div class="b" style="left:2483px;top:746px;width:56px;height:56px;background:#4f5162;border-radius:50%"></div>
<div class="t" style="left:2497.0px;top:763.5px;font-size:20px;font-weight:700;color:#ffffff;letter-spacing:0.4px;">KS</div>
<div class="t" style="left:2560.2px;top:743.6px;font-size:25px;font-weight:400;color:#0b0b0d;letter-spacing:0.475px;-webkit-text-stroke:0.5px #0b0b0d;">Karthik S</div>
<div class="t" style="left:2561.2px;top:781.6px;font-size:21px;font-weight:400;color:#6b6d85;letter-spacing:-0.171px;-webkit-text-stroke:0.3px #6b6d85;">15 Apr 2024, 15:31</div>
<div class="b" style="left:3074px;top:744px;width:60px;height:60px;background:#f3f3fa;border:2px solid #b0b1c4;border-radius:50%;box-sizing:border-box"></div><svg class="b" style="left:3074px;top:744px" width="60" height="60" viewBox="0 0 60 60"><path d="M20.8 21.4 Q20.8 18.3 23.5 19.8 L38.2 28.4 Q40.4 30 38.2 31.6 L23.5 40.2 Q20.8 41.7 20.8 38.6 Z" fill="#6b6d85"/></svg>
<svg class="b" style="left:3222px;top:752px" width="24" height="44" viewBox="0 0 24 44"><circle cx="11.8" cy="10" r="4" fill="#b0b1c4"/><circle cx="11.8" cy="22" r="4" fill="#b0b1c4"/><circle cx="11.8" cy="34" r="4" fill="#b0b1c4"/></svg>
<div class="b" style="left:534px;top:925px;width:32px;height:32px;border:2px solid #3273d0;border-radius:7px;box-sizing:border-box;background:#fff"></div>
<div class="t" style="left:613.2px;top:917.8px;font-size:29px;font-weight:700;color:#3274d2;letter-spacing:0.404px;">boutique-cart-memory-hog</div>
<div class="b" style="left:1000px;top:914px;width:142px;height:39px;background:#f3f3fa;border-radius:20px"></div><svg class="b" style="left:1000px;top:914px" width="40" height="40" viewBox="0 0 40 40" fill="none" stroke="#6b6d85" stroke-width="2.9" stroke-linejoin="round"><rect x="11.6" y="15.8" width="14.8" height="14.7" rx="1.2"/><path d="M17.7 12.4 L17.7 9.7 L32.4 9.7 L32.4 24.4 L29.6 24.4"/></svg>
<div class="t" style="left:1042.6px;top:919.3px;font-size:25px;font-weight:400;color:#6b6d85;letter-spacing:-0.333px;-webkit-text-stroke:0.3px #6b6d85;">Copy ID</div>
<svg class="b" style="left:1344px;top:903px" width="22" height="22" viewBox="0 0 22 22"><path d="M3.6 2.6 L3.6 19.6 Q3.6 21 4.8 20.2 L17 11.8 Q18 11 17 10.3 L4.8 1.9 Q3.6 1.2 3.6 2.6Z" fill="#6b6d85"/></svg>
<div class="t" style="left:1383.6px;top:901.0px;font-size:25px;font-weight:400;color:#6b6d85;letter-spacing:0.629px;-webkit-text-stroke:0.3px #6b6d85;">Non-Cron</div>
<svg class="b" style="left:1337.7px;top:951px" width="32" height="32" viewBox="0 0 32 32"><path d="M16.00 2.80 L26.32 7.77 L28.87 18.94 L21.73 27.89 L10.27 27.89 L3.13 18.94 L5.68 7.77 Z" fill="#4f73e0" stroke="#4f73e0" stroke-width="1.6" stroke-linejoin="round"/><g stroke="#fff" fill="none"><circle cx="16" cy="16.5" r="6.6" stroke-width="1.7"/><path d="M16 16.5 L16.00 5.90 M16 16.5 L24.29 9.89 M16 16.5 L26.33 18.86 M16 16.5 L20.60 26.05 M16 16.5 L11.40 26.05 M16 16.5 L5.67 18.86 M16 16.5 L7.71 9.89 " stroke-width="1.5" stroke-linecap="round"/><circle cx="16" cy="16.5" r="1.6" fill="#4f73e0" stroke="none"/></g></svg>
<div class="t" style="left:1384.4px;top:954.3px;font-size:25px;font-weight:400;color:#3274d2;letter-spacing:0.52px;-webkit-text-stroke:0.3px #3274d2;">chaosday-k8s-...</div>
<div class="b" style="left:1600px;top:959px;width:16px;height:16px;background:#3a7f2e;border-radius:50%"></div>
<div class="b" style="left:1824px;top:923px;width:36px;height:36px;background:#ef8b41;border-radius:4px"></div>
<div class="b" style="left:1868px;top:923px;width:36px;height:36px;background:#6cc466;border-radius:4px"></div>
<div class="b" style="left:1912px;top:923px;width:36px;height:36px;background:#ef8b41;border-radius:4px"></div>
<div class="b" style="left:1956px;top:923px;width:36px;height:36px;background:#ef8b41;border-radius:4px"></div>
<div class="b" style="left:2000px;top:923px;width:36px;height:36px;background:#6cc466;border-radius:4px"></div>
<div class="b" style="left:2044px;top:923px;width:36px;height:36px;background:#6cc466;border-radius:4px"></div>
<div class="b" style="left:2088px;top:923px;width:36px;height:36px;background:#6cc466;border-radius:4px"></div>
<div class="b" style="left:2132px;top:923px;width:36px;height:36px;background:#6cc466;border-radius:4px"></div>
<div class="b" style="left:2176px;top:923px;width:36px;height:36px;background:#6cc466;border-radius:4px"></div>
<div class="b" style="left:2220px;top:923px;width:36px;height:36px;background:#6cc466;border-radius:4px"></div>
<div class="b" style="left:2483px;top:913px;width:56px;height:56px;background:#4f5162;border-radius:50%"></div>
<div class="t" style="left:2497.0px;top:931.0px;font-size:20px;font-weight:700;color:#ffffff;letter-spacing:0.4px;">KS</div>
<div class="t" style="left:2560.2px;top:910.2px;font-size:25px;font-weight:400;color:#0b0b0d;letter-spacing:0.475px;-webkit-text-stroke:0.5px #0b0b0d;">Karthik S</div>
<div class="t" style="left:2561.2px;top:948.2px;font-size:21px;font-weight:400;color:#6b6d85;letter-spacing:0.094px;-webkit-text-stroke:0.3px #6b6d85;">23 Jan 2024, 19:05</div>
<div class="b" style="left:3074px;top:911px;width:60px;height:60px;background:#f3f3fa;border:2px solid #b0b1c4;border-radius:50%;box-sizing:border-box"></div><svg class="b" style="left:3074px;top:911px" width="60" height="60" viewBox="0 0 60 60"><path d="M20.8 21.4 Q20.8 18.3 23.5 19.8 L38.2 28.4 Q40.4 30 38.2 31.6 L23.5 40.2 Q20.8 41.7 20.8 38.6 Z" fill="#6b6d85"/></svg>
<svg class="b" style="left:3222px;top:919px" width="24" height="44" viewBox="0 0 24 44"><circle cx="11.8" cy="10" r="4" fill="#b0b1c4"/><circle cx="11.8" cy="22" r="4" fill="#b0b1c4"/><circle cx="11.8" cy="34" r="4" fill="#b0b1c4"/></svg>
<svg class="b" style="left:0;top:0" width="3444" height="1033" viewBox="0 0 3444 1033">
<g fill="none" stroke="#e8432a" stroke-width="6" stroke-linecap="butt">
<path d="M881.2 236.2 C858 228 828 224 808 242 C795 253 788 266 785 278"/>
<path d="M473.5 377 C490 390 486 408 472 426 C452 452 425 470 400 487"/>
<path d="M639.5 481.5 C615 476 592 484 580 500 C570 513 566 525 563.5 537"/>
<path d="M639.5 656.5 C615 651 592 659 580 675 C570 688 566 700 563.5 712"/>
</g>
<g fill="#e8432a">
<path d="M770 271.8 L799.5 278.2 L778.7 304.7 Z"/>
<path d="M392 476 L411.4 499.8 L378.2 505.6 Z"/>
<path d="M550 534.3 L579.5 541.8 L557.7 567.9 Z"/>
<path d="M550 709.3 L579.5 716.8 L557.7 742.9 Z"/>
</g></svg>
</body></html>
